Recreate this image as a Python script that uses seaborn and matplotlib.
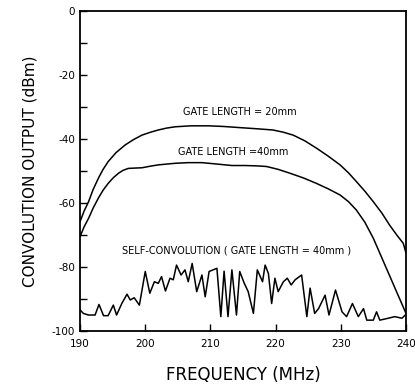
import numpy as np
import pandas as pd
import matplotlib
matplotlib.use("Agg")
import matplotlib.pyplot as plt
import seaborn as sns

# Gate length = 20 mm curve
freq_20 = [190, 190.6, 191.3, 192, 192.8, 193.5, 194.3, 195.5, 196.9, 198.2,
           199.5, 200.8, 202, 203.3, 204.6, 207, 209.7, 212, 214.8, 217,
           219.6, 221.2, 222.7, 224.5, 226.3, 228.1, 229.9, 231.2, 232.4, 233.7,
           235, 236.3, 237.5, 238.6, 239.6, 240]
out_20 = [-65.8, -62.6, -59.6, -55.8, -52.3, -49.6, -47.1, -44.3, -41.9, -40.2,
          -38.8, -37.9, -37.2, -36.6, -36.2, -35.9, -35.9, -36.1, -36.5, -36.8,
          -37.2, -37.9, -38.8, -40.6, -42.9, -45.4, -48.1, -50.6, -53.3, -56.3,
          -59.6, -63.1, -66.9, -70.0, -72.6, -75.5]

# Gate length = 40 mm curve
freq_40 = [190, 190.6, 191.3, 192, 192.8, 193.5, 194.3, 195.1, 195.9, 196.6,
           197.4, 198.4, 199.5, 200.8, 202, 204.6, 206.6, 208.7, 211.3, 213.3,
           215.3, 217, 218.6, 220.4, 222.2, 224.3, 226.3, 228.1, 229.9, 231.2,
           232.4, 233.7, 235, 240]
out_40 = [-70.5, -67.5, -64.8, -61.6, -58.5, -56.1, -53.9, -52.1, -50.7, -49.8,
          -49.2, -49.1, -49.0, -48.5, -48.1, -47.6, -47.4, -47.4, -47.9, -48.3,
          -48.3, -48.4, -48.6, -49.5, -50.7, -52.2, -53.9, -55.6, -57.5, -59.6,
          -62.2, -66.0, -71.0, -94.4]

# Self-convolution (gate length = 40 mm)
freq_self = [190, 190.5, 191.3, 192.3, 192.9, 193.6, 194.3, 195.1, 195.6, 196.4,
             197.2, 197.7, 198.3, 199.1, 200, 200.7, 201.4, 202, 202.5, 203.1,
             203.8, 204.3, 204.8, 205.5, 206.1, 206.6, 207.2, 207.9, 208.7, 209.2,
             209.8, 211, 211.6, 212.1, 212.7, 213.3, 214, 214.5, 215.2, 215.8,
             216.6, 217.2, 218, 218.4, 218.9, 219.4, 219.9, 220.4, 221.2, 221.8,
             222.4, 223, 224, 224.8, 225.3, 226, 226.6, 227.6, 228.2, 229.2,
             230.2, 230.9, 231.8, 232.7, 233.5, 234, 235, 235.5, 236, 237.3,
             238.3, 239.4, 239.9]
out_self = [-93.4, -94.5, -95, -95, -91.7, -95.2, -95.2, -91.9, -95, -91.4,
            -88.5, -90.3, -89.6, -91.9, -81.4, -88.2, -84.6, -85.1, -83, -87.5,
            -83.5, -84, -79.4, -82.5, -80.9, -84.6, -78.9, -87.7, -82.5, -89.3,
            -81.4, -80.4, -95.5, -81.3, -95.5, -80.9, -95, -81.4, -85.1, -87.7,
            -94.5, -80.9, -84.6, -79.4, -82, -91.4, -83.5, -87.7, -84.6, -83.5,
            -85.6, -84, -82.5, -95.5, -86.6, -94.5, -93, -88.8, -95, -87.2,
            -94, -95.5, -91.4, -95.5, -93, -96.6, -96.6, -94, -96.6, -96,
            -95.5, -96, -95]

x_ticks = [190, 200, 210, 220, 230, 240]
y_ticks = [0, -20, -40, -60, -80, -100]

sns.set_style("ticks")
plt.rcParams['font.family'] = ['DejaVu Sans']
plt.rcParams['axes.unicode_minus'] = False

fig = plt.figure(figsize=(4.15, 3.89), dpi=100)
ax = fig.add_axes([0.193, 0.149, 0.785, 0.823])

sns.lineplot(x=freq_20, y=out_20, ax=ax, color='black', linewidth=1.1, sort=False)
sns.lineplot(x=freq_40, y=out_40, ax=ax, color='black', linewidth=1.1, sort=False)
sns.lineplot(x=freq_self, y=out_self, ax=ax, color='black', linewidth=1.1, sort=False)

ax.set_xlim(190, 240)
ax.set_ylim(-100, 0)
ax.set_xticks(x_ticks)
ax.set_yticks(y_ticks)
ax.set_yticks(np.arange(-90, 0, 20), minor=True)
ax.tick_params(direction='in', length=5, width=1, labelsize=7.5,
               colors='black', labelcolor='black')
ax.tick_params(which='minor', direction='in', length=5, width=1, colors='black')
ax.tick_params(axis='x', pad=6)
for s in ax.spines.values():
    s.set_visible(True)
    s.set_linewidth(1.3)
    s.set_color('black')

ax.set_xlabel("FREQUENCY (MHz)", fontsize=12, labelpad=12, color='black')
ax.set_ylabel("CONVOLUTION OUTPUT (dBm)", fontsize=11, labelpad=10, color='black')

ax.text(214.5, -31.6, "GATE LENGTH = 20mm", fontsize=7, ha='center', va='center',
        color='black')
ax.text(213.5, -44, "GATE LENGTH =40mm", fontsize=7, ha='center', va='center',
        color='black')
ax.text(214, -74.7, "SELF-CONVOLUTION ( GATE LENGTH = 40mm )", fontsize=7,
        ha='center', va='center', color='black')

fig.savefig("out.png", dpi=100)
